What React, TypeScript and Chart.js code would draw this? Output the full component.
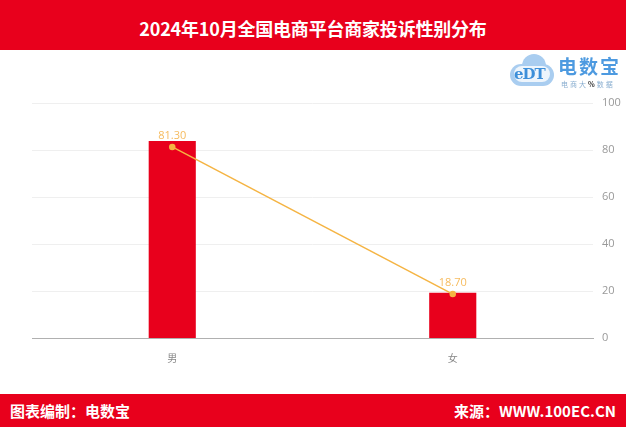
import React, { useEffect, useRef } from "react";
import { Chart, registerables } from "chart.js";

Chart.register(...registerables);

const categories = ["男", "女"];
const barValues = [81.3, 18.7];
const lineValues = [81.3, 18.7];
const yTicks = [0, 20, 40, 60, 80, 100];

const RED = "#e8001c";
const ORANGE = "#f5b443";

const labelPlugin = {
  id: "lineLabels",
  afterDatasetsDraw(chart: any) {
    const ctx = chart.ctx;
    const meta = chart.getDatasetMeta(1);
    ctx.save();
    ctx.fillStyle = "#f6bb5e";
    ctx.font = "11px 'Open Sans', 'Noto Sans', sans-serif";
    ctx.textAlign = "center";
    ctx.textBaseline = "bottom";
    meta.data.forEach((pt: any, i: number) => {
      ctx.fillText(lineValues[i].toFixed(2), pt.x, pt.y - 6);
    });
    ctx.restore();
  },
};

export default function App() {
  const ref = useRef<HTMLCanvasElement>(null);
  useEffect(() => {
    document.body.style.margin = "0";
    const chart = new Chart(ref.current!, {
      type: "bar",
      data: {
        labels: categories,
        datasets: [
          {
            type: "bar",
            data: barValues,
            backgroundColor: RED,
            yAxisID: "yBar",
            categoryPercentage: 0.84,
            barPercentage: 0.2,
            order: 2,
          },
          {
            type: "line",
            data: lineValues,
            borderColor: ORANGE,
            backgroundColor: ORANGE,
            borderWidth: 1.5,
            pointRadius: 2.5,
            pointBackgroundColor: ORANGE,
            pointBorderColor: ORANGE,
            yAxisID: "y",
            order: 1,
          } as any,
        ],
      },
      options: {
        animation: false,
        responsive: false,
        maintainAspectRatio: false,
        layout: { padding: { left: 32, top: 53, right: 0, bottom: 0 } },
        plugins: { legend: { display: false }, tooltip: { enabled: false } },
        scales: {
          x: {
            grid: { display: false },
            border: { display: true, color: "#b0b0b0", width: 1 },
            ticks: { color: "#888", font: { size: 10, family: "'Noto Sans CJK SC', sans-serif" }, padding: 6 },
            afterFit: (s: any) => { s.height = 56; },
          },
          y: {
            position: "right",
            min: 0,
            max: 100,
            afterBuildTicks: (s: any) => { s.ticks = yTicks.map((v) => ({ value: v })); },
            grid: { color: "#efefef", drawTicks: false },
            border: { display: false },
            ticks: { color: "#999", font: { size: 11, family: "'Open Sans', sans-serif" }, padding: 9 },
            afterFit: (s: any) => { s.width = 33; },
          },
          yBar: {
            display: false,
            min: 0,
            max: 97,
          },
        },
      },
      plugins: [labelPlugin],
    } as any);
    return () => chart.destroy();
  }, []);

  return (
    <div style={{ position: "absolute", left: 0, top: 0, width: 626, height: 427, background: "#fff", overflow: "hidden", fontFamily: "'Noto Sans CJK SC', sans-serif" }}>
      <div style={{ position: "absolute", left: 0, top: 0, width: 626, height: 50, background: RED, color: "#fff", fontWeight: 700, fontSize: 18, lineHeight: "56px", textAlign: "center", letterSpacing: -0.2 }}>
        2024年10月全国电商平台商家投诉性别分布
      </div>
      <canvas ref={ref} width={626} height={344} style={{ position: "absolute", left: 0, top: 50, width: 626, height: 344 }} />
      <div style={{ position: "absolute", left: 508, top: 54, width: 48, height: 32 }}>
        <div style={{ position: "absolute", left: 2, top: 10, width: 44, height: 22, borderRadius: 11, background: "#a9cdf0" }} />
        <div style={{ position: "absolute", left: 14, top: 0, width: 24, height: 24, borderRadius: 12, background: "#a9cdf0" }} />
        <div style={{ position: "absolute", left: 6, top: 12, width: 36, height: 16, borderRadius: 8, background: "#eef5fc" }} />
        <div style={{ position: "absolute", left: 6, top: 11, fontSize: 15, fontWeight: 700, color: "#3d8fd9", fontFamily: "'DejaVu Serif', serif", letterSpacing: -1 }}>eDT</div>
      </div>
      <div style={{ position: "absolute", left: 558, top: 54, fontSize: 19, fontWeight: 700, color: "#4d9ae0", letterSpacing: 2, lineHeight: "24px" }}>电数宝</div>
      <div style={{ position: "absolute", left: 561, top: 80, fontSize: 7, color: "#8aaed0", letterSpacing: 2, lineHeight: "9px" }}>电商大<span style={{ color: "#333", fontWeight: 700 }}>%</span>数据</div>
      <div style={{ position: "absolute", left: 0, top: 394, width: 626, height: 33, background: RED, color: "#fff", fontWeight: 700, fontSize: 15, lineHeight: "33px" }}>
        <span style={{ position: "absolute", left: 10 }}>图表编制：电数宝</span>
        <span style={{ position: "absolute", right: 10 }}>来源：WWW.100EC.CN</span>
      </div>
    </div>
  );
}
